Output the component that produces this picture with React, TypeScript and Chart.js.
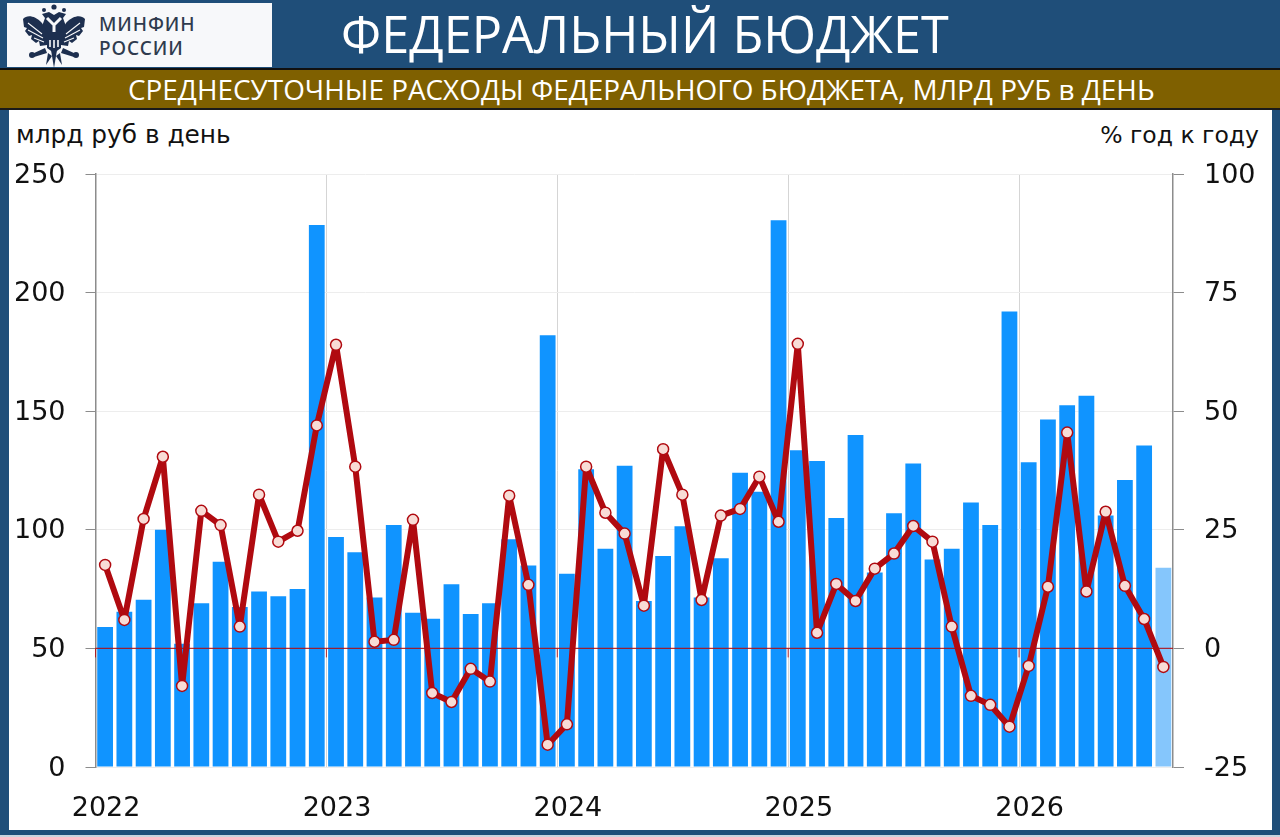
import React, { useEffect, useRef } from "react";
import { Chart, registerables } from "chart.js";

Chart.register(...registerables);

const months = [
  "2022","","","","","","","","","","","",
  "2023","","","","","","","","","","","",
  "2024","","","","","","","","","","","",
  "2025","","","","","","","","","","","",
  "2026","","","","","","","",
];
const spending = [
  59, 65.5, 70.5, 100, 52, 69, 86.5, 67.5, 74, 72, 75, 228.5,
  97, 90.5, 71.5, 102, 65, 62.5, 77, 64.5, 69, 96, 85, 182,
  81.5, 125.5, 92, 127, 70, 89, 101.5, 71.5, 88, 124, 116, 230.5,
  133.5, 129, 105, 140, 82, 107, 128, 87.5, 92, 111.5, 102, 192,
  128.5, 146.5, 152.5, 156.5, 106, 121, 135.5, 84,
];
const yoy = [
  17.6, 6, 27.3, 40.4, -7.9, 29, 26, 4.6, 32.4, 22.5, 24.8, 47,
  64, 38.3, 1.4, 1.8, 27.1, -9.4, -11.3, -4.3, -7, 32.2, 13.4, -20.3,
  -16, 38.3, 28.6, 24.2, 9, 42, 32.4, 10.2, 28, 29.4, 36.2, 26.7,
  64.2, 3.3, 13.6, 10, 16.8, 20, 25.8, 22.5, 4.6, -10, -11.9, -16.5,
  -3.7, 13, 45.5, 12, 28.8, 13.2, 6.2, -3.9,
];
const leftTicks = [0, 50, 100, 150, 200, 250];
const rightTicks = [-25, 0, 25, 50, 75, 100];

const BAR = "#1094FF";
const BAR_LIGHT = "#85C6FC";
const RED = "#B00A10";
const NAVY = "#1F4E79";
const UI = "'DejaVu Sans', sans-serif";
const HEAD = "'Open Sans', sans-serif";

function Eagle() {
  const ink = "#1d2f4f";
  return (
    <svg width="64" height="65" viewBox="0 0 64 65" style={{ position: "absolute", left: 15, top: 0 }}>
      <g fill={ink}>
        <circle cx="32" cy="4" r="2.6" />
        <circle cx="22" cy="7" r="2" />
        <circle cx="42" cy="7" r="2" />
        <path d="M20 11 L27 9 L32 12 L37 9 L44 11 L41 15 L45 26 L38 34 H26 L19 26 L23 15 Z" />
        <path d="M20 20 C12 12 5 12 1 16 L2 24 L5 25 L3 28 L7 33 L10 32 L9 36 L14 40 L17 38 L18 43 L25 42 L27 32 Z" />
        <path d="M44 20 C52 12 59 12 63 16 L62 24 L59 25 L61 28 L57 33 L54 32 L55 36 L50 40 L47 38 L46 43 L39 42 L37 32 Z" />
        <path d="M25 33 H39 V45 L32 50 L25 45 Z" />
        <path d="M29 47 L32 65 L35 47 Z" />
        <path d="M26 50 L24 62 L30 53 Z" />
        <path d="M38 50 L40 62 L34 53 Z" />
        <path d="M23 45 L10 51 L12 54 L25 50 Z" />
        <path d="M41 45 L54 51 L52 54 L39 50 Z" />
        <circle cx="10" cy="52" r="3" />
        <circle cx="54" cy="52" r="3" />
      </g>
      <path d="M25 15 L32 22 L39 15 M32 22 V29" stroke="#f7f8fa" strokeWidth="3" fill="none" />
      <path d="M28 37 V44 M32 37 V45 M36 37 V44" stroke="#f7f8fa" strokeWidth="1.6" fill="none" />
      <path d="M6 20 L20 31 M6 27 L21 35 M12 35 L22 39 M58 20 L44 31 M58 27 L43 35 M52 35 L42 39" stroke="#f7f8fa" strokeWidth="1.1" fill="none" />
    </svg>
  );
}

export default function App() {
  const ref = useRef<HTMLCanvasElement | null>(null);

  useEffect(() => {
    document.body.style.margin = "0";
    const zeroLine = {
      id: "zeroLine",
      beforeDatasetDraw(c: any, args: any) {
        if (args.index !== 0) return;
        const { ctx, scales, chartArea } = c;
        const zero = scales.y1.getPixelForValue(0);
        const step = scales.x.getPixelForValue(1) - scales.x.getPixelForValue(0);
        ctx.save();
        ctx.strokeStyle = "rgba(176,10,16,0.85)";
        ctx.lineWidth = 1.4;
        ctx.beginPath();
        ctx.moveTo(chartArea.left, zero);
        ctx.lineTo(chartArea.right, zero);
        ctx.stroke();
        ctx.lineWidth = 1;
        months.forEach((m, i) => {
          if (!m) return;
          const x = scales.x.getPixelForValue(i) - step / 2;
          ctx.beginPath();
          ctx.moveTo(x, zero);
          ctx.lineTo(x, zero + 9);
          ctx.stroke();
        });
        ctx.restore();
      },
    };
    const chart = new Chart(ref.current as HTMLCanvasElement, {
      type: "bar",
      data: {
        labels: months,
        datasets: [
          {
            type: "line",
            label: "% год к году",
            data: yoy,
            yAxisID: "y1",
            borderColor: RED,
            borderWidth: 6,
            borderJoinStyle: "round",
            borderCapStyle: "round",
            tension: 0,
            pointRadius: 5.5,
            pointBackgroundColor: "#F8DCD6",
            pointBorderColor: RED,
            pointBorderWidth: 1.5,
            order: 1,
          },
          {
            type: "bar",
            label: "млрд руб в день",
            data: spending,
            yAxisID: "y",
            backgroundColor: spending.map((_, i) => (i === spending.length - 1 ? BAR_LIGHT : BAR)),
            categoryPercentage: 1,
            barPercentage: 0.82,
            order: 2,
          },
        ],
      } as any,
      plugins: [zeroLine],
      options: {
        responsive: false,
        animation: false,
        layout: { padding: { left: 0, right: 0, top: 174, bottom: 0 } },
        plugins: { legend: { display: false }, title: { display: false }, tooltip: { enabled: false } },
        scales: {
          x: {
            offset: true,
            afterFit(a: any) { a.height = 70; },
            grid: {
              offset: true,
              drawTicks: false,
              color: (c: any) => (c.index !== undefined && months[c.index] ? "#D5D5D5" : "rgba(0,0,0,0)"),
              lineWidth: 1,
            },
            border: { color: "rgba(0,0,0,0)" },
            ticks: {
              autoSkip: false,
              maxRotation: 0,
              minRotation: 0,
              padding: 26,
              labelOffset: 1,
              color: "#111",
              font: { family: UI, size: 27 },
            },
          },
          y: {
            position: "left",
            min: 0,
            max: 250,
            afterFit(a: any) { a.width = 95.5; },
            afterBuildTicks(a: any) { a.ticks = leftTicks.map((value) => ({ value })); },
            grid: {
              color: "#EDEDED",
              tickColor: "#8C8C8C",
              tickLength: 10,
              lineWidth: 1,
            },
            border: { color: "#8C8C8C", width: 1.5 },
            ticks: { padding: 20, labelOffset: 1.5, color: "#111", font: { family: UI, size: 27 } },
          },
          y1: {
            position: "right",
            min: -25,
            max: 100,
            afterFit(a: any) { a.width = 107; },
            afterBuildTicks(a: any) { a.ticks = rightTicks.map((value) => ({ value })); },
            grid: { drawOnChartArea: false, tickColor: "#8C8C8C", tickLength: 11 },
            border: { color: "#8C8C8C", width: 1.5 },
            ticks: { padding: 20, labelOffset: 1.5, color: "#111", font: { family: UI, size: 27 } },
          },
        },
      },
    });
    return () => chart.destroy();
  }, []);

  const abs = (s: React.CSSProperties): React.CSSProperties => ({ position: "absolute", whiteSpace: "nowrap", ...s });

  return (
    <div style={{ position: "relative", width: 1280, height: 837, overflow: "hidden", background: NAVY }}>
      <div style={abs({ left: 9, top: 108, width: 1263, height: 722, background: "#fff" })} />
      <div style={abs({ left: 0, top: 835, width: 1280, height: 2, background: "#C9D3DE" })} />
      <div style={abs({ left: 7, top: 3, width: 265, height: 64, background: "#F7F8FA" })}>
        <Eagle />
        <div style={abs({ left: 92, top: 9, fontFamily: "'Noto Sans', sans-serif", fontWeight: 500, fontSize: 19, lineHeight: "24px", letterSpacing: 0.9, color: "#2F3B4E" })}>
          МИНФИН<br />РОССИИ
        </div>
      </div>
      <div style={abs({ left: 341, top: 0, fontFamily: HEAD, fontSize: 50.4, lineHeight: "68px", color: "#fff" })}>ФЕДЕРАЛЬНЫЙ БЮДЖЕТ</div>
      <div style={abs({ left: 0, top: 68, width: 1280, height: 42, boxSizing: "border-box", borderTop: "2px solid #111", borderBottom: "2px solid #1a1a1a", background: "#7F6000" })} />
      <div style={abs({ left: 128, top: 70, fontFamily: HEAD, fontSize: 27.9, lineHeight: "38px", color: "#fff" })}>
        СРЕДНЕСУТОЧНЫЕ РАСХОДЫ ФЕДЕРАЛЬНОГО БЮДЖЕТА, МЛРД РУБ в ДЕНЬ
      </div>
      <div style={abs({ left: 16, top: 120, fontFamily: UI, fontSize: 24.8, lineHeight: "30px", color: "#111" })}>млрд руб в день</div>
      <div style={abs({ right: 21, top: 120, fontFamily: UI, fontSize: 23.5, lineHeight: "30px", color: "#111" })}>% год к году</div>
      <canvas ref={ref} width={1280} height={837} style={{ position: "absolute", left: 0, top: 0, width: 1280, height: 837 }} />
    </div>
  );
}
